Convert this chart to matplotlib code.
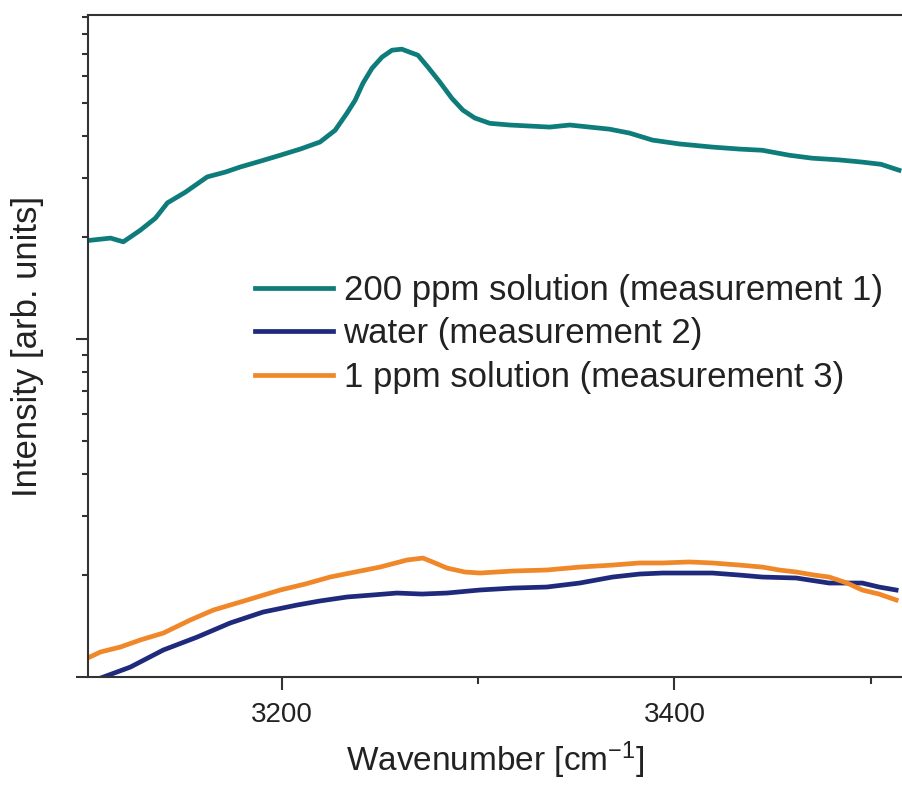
import matplotlib.pyplot as plt
import numpy as np

plt.rcParams['font.family'] = ['Liberation Sans', 'DejaVu Sans']
plt.rcParams['mathtext.fontset'] = 'custom'
plt.rcParams['mathtext.rm'] = 'Liberation Sans'
plt.rcParams['mathtext.it'] = 'Liberation Sans:italic'

# ---- data (wavenumber in cm^-1, intensity in arb. units) ----
wn_200ppm = [3102, 3112.5, 3119, 3127.7, 3135.4, 3141.5, 3150.6, 3161.8, 3171, 3178.6,
             3188.8, 3199, 3209.2, 3219.3, 3227, 3233, 3237.2, 3241.2, 3245.8, 3250.9,
             3256, 3261, 3265.1, 3269.2, 3274.3, 3280.4, 3286.5, 3292.1, 3298.2, 3305.9,
             3316, 3326.2, 3336.4, 3346.6, 3356.7, 3366.9, 3377.1, 3388.8, 3402.5, 3419.3,
             3433.1, 3444.8, 3458.5, 3470.2, 3484, 3495.7, 3505.3, 3514.5]
int_200ppm = [19.6, 19.9, 19.4, 21.0, 22.8, 25.3, 27.2, 30.2, 31.2, 32.3,
              33.6, 35.0, 36.5, 38.3, 41.5, 46.6, 50.9, 57.2, 63.3, 68.3,
              71.6, 72.1, 70.6, 69.2, 63.8, 57.6, 51.6, 47.6, 45.1, 43.5,
              43.0, 42.7, 42.4, 43.0, 42.4, 41.8, 40.7, 38.8, 37.8, 37.0,
              36.5, 36.2, 35.0, 34.3, 33.9, 33.4, 32.9, 31.6]

wn_water = [3104.8, 3108.9, 3122.6, 3139.4, 3156.7, 3173.5, 3190.3, 3207.6, 3219.3, 3233.1,
            3245.8, 3258.5, 3271.2, 3284, 3300.8, 3317.6, 3334.9, 3351.7, 3368.4, 3382.2,
            3393.9, 3407.6, 3419.3, 3433.1, 3444.8, 3462.1, 3478.9, 3488, 3495.7, 3504.3, 3513]
int_water = [0.98, 1.0, 1.070, 1.202, 1.313, 1.445, 1.557, 1.633, 1.679, 1.725,
             1.748, 1.772, 1.760, 1.772, 1.809, 1.833, 1.846, 1.897, 1.976, 2.017,
             2.031, 2.031, 2.031, 2.003, 1.976, 1.963, 1.897, 1.897, 1.897, 1.846, 1.809]

wn_1ppm = [3100.8, 3107.4, 3117.6, 3127.7, 3139.4, 3153.2, 3164.9, 3182.2, 3199, 3211.7,
           3224.4, 3237.2, 3249.9, 3263.6, 3271.8, 3277.9, 3284, 3293.1, 3300.8, 3317.6,
           3334.9, 3351.7, 3368.4, 3382.2, 3393.9, 3407.6, 3419.3, 3433.1, 3444.8, 3453.4,
           3462.1, 3471.2, 3478.9, 3488, 3495.7, 3504.3, 3513]
int_1ppm = [1.138, 1.186, 1.227, 1.287, 1.349, 1.475, 1.578, 1.690, 1.809, 1.884,
            1.976, 2.045, 2.115, 2.219, 2.249, 2.175, 2.101, 2.045, 2.031, 2.059,
            2.073, 2.115, 2.144, 2.175, 2.175, 2.190, 2.175, 2.144, 2.115, 2.073,
            2.045, 2.003, 1.976, 1.897, 1.809, 1.760, 1.690]

labels = ['200 ppm solution (measurement 1)', 'water (measurement 2)', '1 ppm solution (measurement 3)']
colors = ['#0e7c7b', '#1f2a7c', '#f0882a']

W, H = 902, 787
fig = plt.figure(figsize=(W / 100, H / 100), dpi=100)
ax = fig.add_axes([88 / W, 1 - 677 / H, 1 - 88 / W, (677 - 15) / H])

ax.plot(wn_200ppm, int_200ppm, color=colors[0], lw=3.4, label=labels[0])
ax.plot(wn_water, int_water, color=colors[1], lw=3.4, label=labels[1])
ax.plot(wn_1ppm, int_1ppm, color=colors[2], lw=3.4, label=labels[2])

ax.set_yscale('log')
ax.set_ylim(1, 91)
ax.set_xlim(3101, 3516)

ax.set_xticks([3200, 3400])
ax.set_xticks([3300, 3500], minor=True)
ax.tick_params(axis='x', which='major', length=9, width=1.5, labelsize=20, pad=9, colors='#333333')
ax.tick_params(axis='x', which='minor', length=5, width=1.5, colors='#333333')
ax.tick_params(axis='y', which='major', length=9, width=1.5, colors='#333333')
ax.tick_params(axis='y', which='minor', length=4.5, width=1.5, colors='#333333')
ax.tick_params(axis='y', which='both', labelleft=False)
for lab in ax.get_xticklabels():
    lab.set_color('#222222')

for side in ['left', 'bottom', 'top']:
    ax.spines[side].set_linewidth(1.5)
    ax.spines[side].set_color('#333333')
ax.spines['right'].set_visible(False)

ax.set_xlabel('Wavenumber [cm$^{-1}$]', fontsize=24, labelpad=8, color='#222222')
ax.set_ylabel('Intensity [arb. units]', fontsize=25, labelpad=23, color='#222222')

leg = ax.legend(loc='upper left', bbox_to_anchor=(255 / W, 1 - 274 / H),
                bbox_transform=fig.transFigure, frameon=False, fontsize=25,
                handlelength=2.25, handletextpad=0.3, labelspacing=0.3,
                borderpad=0, borderaxespad=0)
for t in leg.get_texts():
    t.set_color('#222222')

fig.savefig('out.png', dpi=100)
